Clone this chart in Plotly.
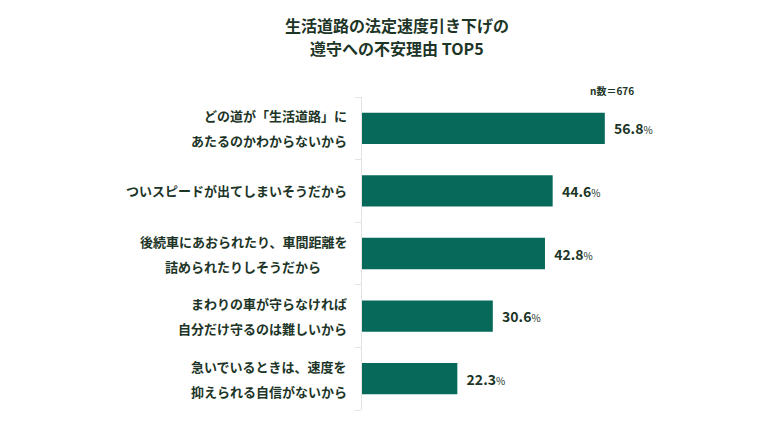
import plotly.graph_objects as go

# data
reasons = [
    ["どの道が「生活道路」に", "あたるのかわからないから"],
    ["ついスピードが出てしまいそうだから"],
    ["後続車にあおられたり、車間距離を", "詰められたりしそうだから\u3000\u3000"],
    ["まわりの車が守らなければ", "自分だけ守るのは難しいから"],
    ["急いでいるときは、速度を", "抑えられる自信がないから"],
]
shares = [56.8, 44.6, 42.8, 30.6, 22.3]
positions = list(range(len(shares)))

title_lines = ["生活道路の法定速度引き下げの", "遵守への不安理由 TOP5"]
n_note = "n数＝676"

FONT = "Noto Sans CJK JP"
TEXT_COLOR = "#1d3527"
BAR_COLOR = "#07695a"

# the page puts the figure 8px in from the top-left corner
W, H = 762, 425
PLOT_L, PLOT_R, PLOT_T, PLOT_B = 354, 696, 89, 402

fig = go.Figure()

fig.add_trace(go.Bar(
    x=shares,
    y=positions,
    orientation="h",
    width=0.5,
    marker=dict(color=BAR_COLOR, line=dict(width=0)),
    text=[f"{v:.1f}" for v in shares],
    texttemplate="\u00a0\u00a0<b>%{text}</b><span style='font-size:10px'>%</span>",
    textposition="outside",
    outsidetextfont=dict(family=FONT, size=14, color=TEXT_COLOR),
    cliponaxis=False,
    hoverinfo="skip",
))

# category labels, one annotation per line so the line gap can match
for pos, lines in zip(positions, reasons):
    n = len(lines)
    for i, line in enumerate(lines):
        shift = (n - 1) * 12.5 - i * 25
        fig.add_annotation(
            x=0, xref="paper", y=pos, yref="y",
            text=f"<b>{line}</b>",
            showarrow=False,
            xanchor="right", yanchor="middle",
            xshift=-13, yshift=shift,
            font=dict(family=FONT, size=13, color=TEXT_COLOR),
        )

# title, two lines
for i, line in enumerate(title_lines):
    fig.add_annotation(
        x=(389 - PLOT_L) / (PLOT_R - PLOT_L), xref="paper", y=1, yref="paper",
        text=f"<b>{line}</b>",
        showarrow=False,
        xanchor="center", yanchor="middle",
        yshift=72 - i * 23,
        font=dict(family=FONT, size=16, color=TEXT_COLOR),
    )

fig.add_annotation(
    x=(604 - PLOT_L) / (PLOT_R - PLOT_L), xref="paper", y=1.0, yref="paper",
    text=f"<b>{n_note}</b>",
    showarrow=False,
    xanchor="center", yanchor="middle", yshift=7,
    font=dict(family=FONT, size=10, color=TEXT_COLOR),
)

fig.update_layout(
    width=W,
    height=H,
    margin=dict(l=PLOT_L, r=W - PLOT_R, t=PLOT_T, b=H - PLOT_B, pad=0),
    paper_bgcolor="white",
    plot_bgcolor="white",
    showlegend=False,
    xaxis=dict(
        range=[0, 80],
        visible=False,
        fixedrange=True,
    ),
    yaxis=dict(
        range=[4.5, -0.5],
        tickvals=[-0.5, 0.5, 1.5, 2.5, 3.5, 4.5],
        showticklabels=False,
        ticks="outside",
        ticklen=6,
        tickcolor="#e3e3e3",
        showline=True,
        linecolor="#e3e3e3",
        linewidth=1,
        showgrid=False,
        zeroline=False,
        fixedrange=True,
    ),
)

fig.write_html("out.html")
